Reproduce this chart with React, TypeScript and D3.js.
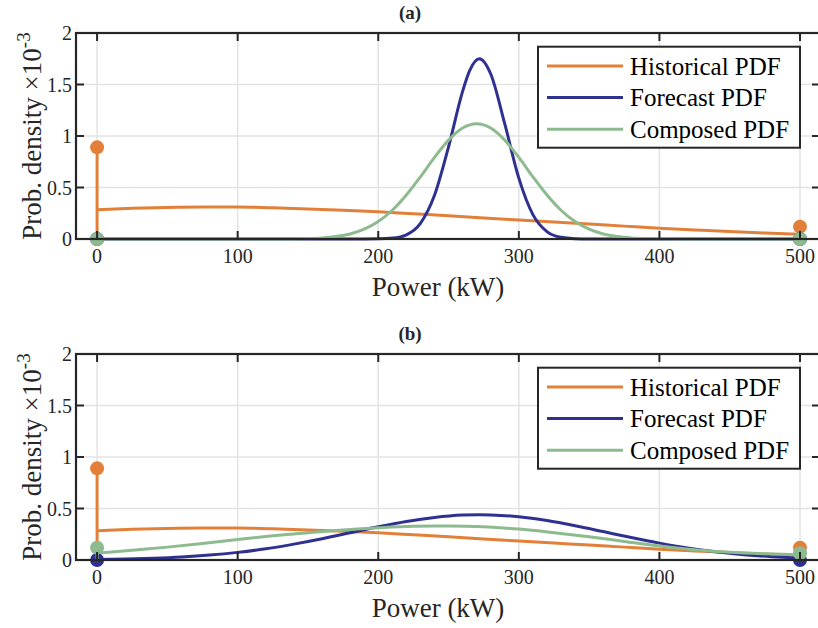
import React from "react";
import * as d3 from "d3";

// ---------- Data ----------
const xTicks = [0, 100, 200, 300, 400, 500];
const yTicks = [0, 0.5, 1, 1.5, 2];
const yTickLabels = ["0", "0.5", "1", "1.5", "2"];
const seriesNames = ["Historical PDF", "Forecast PDF", "Composed PDF"];
const seriesColors = ["#E2803A", "#2E3190", "#8DBB8F"];

// Historical PDF (same in both panels)
const histX = [0, 25, 50, 75, 100, 125, 150, 175, 200, 225, 250, 275, 300, 325, 350, 375, 400, 425, 450, 475, 500];
const histY = [0.285, 0.298, 0.307, 0.311, 0.31, 0.303, 0.292, 0.28, 0.265, 0.245, 0.226, 0.205, 0.185, 0.165, 0.145, 0.125, 0.105, 0.088, 0.072, 0.058, 0.045];

// Panel (a)
const forecastAX = [0, 100, 150, 180, 190, 200, 210, 220, 230, 240, 250, 260, 265, 272, 280, 290, 300, 310, 320, 330, 340, 350, 360, 400, 500];
const forecastAY = [0, 0, 0, 0, 0.0001, 0.0013, 0.0086, 0.041, 0.152, 0.424, 0.895, 1.433, 1.635, 1.75, 1.602, 1.117, 0.591, 0.237, 0.072, 0.0166, 0.003, 0.0004, 0, 0, 0];
const composedAX = [0, 100, 140, 150, 160, 170, 180, 190, 200, 210, 220, 230, 240, 250, 260, 270, 280, 290, 300, 310, 320, 330, 340, 350, 360, 370, 380, 390, 400, 420, 500];
const composedAY = [0, 0, 0.001, 0.0043, 0.0105, 0.0236, 0.049, 0.095, 0.169, 0.279, 0.427, 0.604, 0.792, 0.96, 1.078, 1.12, 1.078, 0.96, 0.792, 0.604, 0.427, 0.279, 0.169, 0.095, 0.049, 0.0236, 0.0105, 0.0043, 0.0016, 0.0002, 0];

// Panel (b)
const forecastBX = [0, 20, 40, 60, 80, 100, 120, 140, 160, 180, 200, 220, 240, 260, 272, 280, 300, 320, 340, 360, 380, 400, 420, 440, 460, 480, 500];
const forecastBY = [0.005, 0.0095, 0.017, 0.029, 0.0475, 0.074, 0.109, 0.154, 0.206, 0.264, 0.322, 0.374, 0.413, 0.436, 0.44, 0.438, 0.42, 0.383, 0.333, 0.276, 0.218, 0.164, 0.117, 0.08, 0.052, 0.032, 0.019];
const composedBX = [0, 25, 50, 75, 100, 125, 150, 175, 200, 225, 250, 275, 300, 325, 350, 375, 400, 425, 450, 475, 500];
const composedBY = [0.065, 0.095, 0.125, 0.16, 0.2, 0.235, 0.265, 0.292, 0.313, 0.327, 0.33, 0.322, 0.3, 0.265, 0.225, 0.18, 0.135, 0.1, 0.075, 0.06, 0.05];

// Point masses (stems) at 0 and 500: [value at 0, value at 500]
const histMass = [0.89, 0.12];
const forecastAMass = [0, 0];
const composedAMass = [0, 0];
const forecastBMass = [0, 0];
const composedBMass = [0.12, 0.065];
const massX = [0, 500];

const panels = [
  {
    title: "(a)",
    top: 33,
    series: [
      { xs: histX, ys: histY, mass: histMass },
      { xs: forecastAX, ys: forecastAY, mass: forecastAMass },
      { xs: composedAX, ys: composedAY, mass: composedAMass },
    ],
  },
  {
    title: "(b)",
    top: 354,
    series: [
      { xs: histX, ys: histY, mass: histMass },
      { xs: forecastBX, ys: forecastBY, mass: forecastBMass },
      { xs: composedBX, ys: composedBY, mass: composedBMass },
    ],
  },
];

const FONT = "'Liberation Serif', 'Times New Roman', serif";
const LEFT = 76;
const RIGHT = 820;
const H = 206;
const AXIS = "#262626";
const GRID = "#e3e3e3";

function Panel({ p }: { p: typeof panels[number] }) {
  const x = d3.scaleLinear().domain([-15, 500]).range([LEFT, 800]);
  const y = d3.scaleLinear().domain([0, 2]).range([p.top + H, p.top]);
  const line = d3
    .line<[number, number]>()
    .x((d) => x(d[0]))
    .y((d) => y(d[1]))
    .curve(d3.curveMonotoneX);
  const bottom = p.top + H;
  const tick = 8;
  const legX = 538;
  const legY = p.top + 13.7;
  const cx = (LEFT + 800) / 2;
  return (
    <g>
      <text x={410} y={p.top - 14} textAnchor="middle" fontFamily={FONT} fontWeight="bold" fontSize={19} fill="#262626">
        {p.title}
      </text>
      {/* grid */}
      {xTicks.map((t) => (
        <line key={"gx" + t} x1={x(t)} x2={x(t)} y1={p.top} y2={bottom} stroke={GRID} strokeWidth={1.5} />
      ))}
      {yTicks.slice(1, -1).map((t) => (
        <line key={"gy" + t} x1={LEFT} x2={RIGHT} y1={y(t)} y2={y(t)} stroke={GRID} strokeWidth={1.5} />
      ))}
      {/* curves */}
      {p.series.map((s, i) => (
        <path
          key={"c" + i}
          d={line(s.xs.map((v, k) => [v, s.ys[k]] as [number, number])) || ""}
          fill="none"
          stroke={seriesColors[i]}
          strokeWidth={3}
        />
      ))}
      {/* stems */}
      {p.series.map((s, i) =>
        s.mass.map((m, k) => (
          <g key={"s" + i + "_" + k}>
            <line x1={x(massX[k])} x2={x(massX[k])} y1={y(0)} y2={y(m)} stroke={seriesColors[i]} strokeWidth={3} />
            <circle cx={x(massX[k])} cy={y(m)} r={7} fill={seriesColors[i]} />
          </g>
        ))
      )}
      {/* axes box */}
      <rect x={LEFT} y={p.top} width={RIGHT - LEFT} height={H} fill="none" stroke={AXIS} strokeWidth={2.2} />
      {xTicks.map((t) => (
        <g key={"tx" + t}>
          <line x1={x(t)} x2={x(t)} y1={bottom} y2={bottom - tick} stroke={AXIS} strokeWidth={2} />
          <line x1={x(t)} x2={x(t)} y1={p.top} y2={p.top + tick} stroke={AXIS} strokeWidth={2} />
          <text x={x(t)} y={bottom + 24} textAnchor="middle" fontFamily={FONT} fontSize={20} fill="#262626">
            {t}
          </text>
        </g>
      ))}
      {yTicks.map((t, i) => (
        <g key={"ty" + t}>
          <line x1={LEFT} x2={LEFT + tick} y1={y(t)} y2={y(t)} stroke={AXIS} strokeWidth={2} />
          <line x1={RIGHT} x2={RIGHT - tick} y1={y(t)} y2={y(t)} stroke={AXIS} strokeWidth={2} />
          <text x={72} y={y(t) + 7} textAnchor="end" fontFamily={FONT} fontSize={20} fill="#262626">
            {yTickLabels[i]}
          </text>
        </g>
      ))}
      {/* axis labels */}
      <text x={cx} y={bottom + 57} textAnchor="middle" fontFamily={FONT} fontSize={27} fill="#262626">
        Power (kW)
      </text>
      <text
        transform={`translate(41, ${p.top + H / 2}) rotate(-90)`}
        textAnchor="middle"
        fontFamily={FONT}
        fontSize={27}
        fill="#262626"
      >
        Prob. density ×10
        <tspan fontSize={19} dy={-11}>
          -3
        </tspan>
      </text>
      {/* legend */}
      <rect x={legX} y={legY} width={262} height={101} fill="white" stroke={AXIS} strokeWidth={2} />
      {seriesNames.map((n, i) => (
        <g key={"l" + i}>
          <line
            x1={legX + 9}
            x2={legX + 85}
            y1={legY + 19.3 + i * 31.6}
            y2={legY + 19.3 + i * 31.6}
            stroke={seriesColors[i]}
            strokeWidth={3}
          />
          <text x={legX + 92} y={legY + 19.3 + i * 31.6 + 8.5} fontFamily={FONT} fontSize={25} fill="#000">
            {n}
          </text>
        </g>
      ))}
    </g>
  );
}

export default function App() {
  return (
    <svg
      width={818}
      height={628}
      style={{ position: "absolute", left: 0, top: 0, background: "white" }}
    >
      <rect x={0} y={0} width={818} height={628} fill="white" />
      {panels.map((p) => (
        <Panel key={p.title} p={p} />
      ))}
    </svg>
  );
}
